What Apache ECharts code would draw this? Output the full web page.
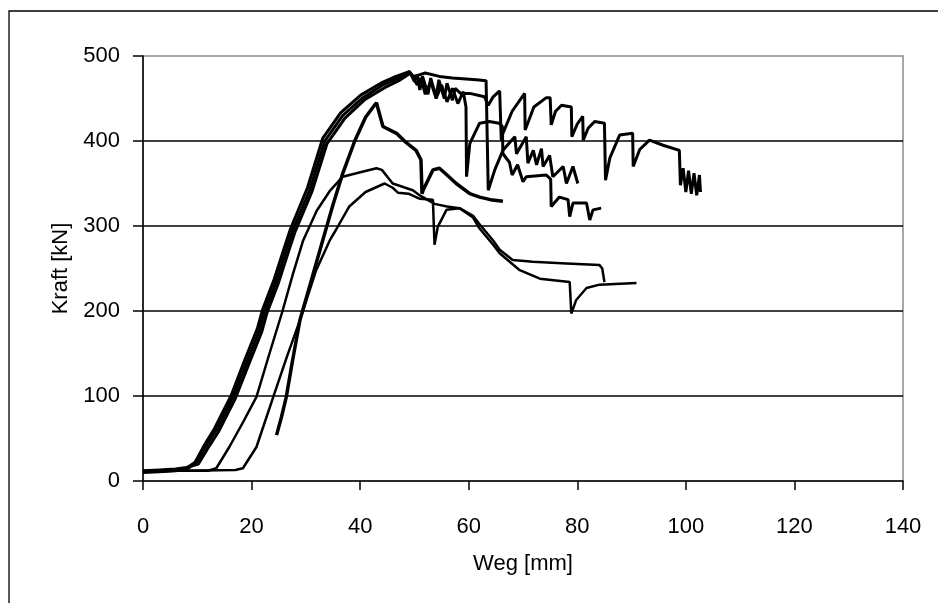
<!DOCTYPE html>
<html>
<head>
<meta charset="utf-8">
<script src="https://cdn.jsdelivr.net/npm/echarts@6/dist/echarts.min.js"></script>
<style>
  html, body { margin: 0; padding: 0; background: #fff; }
  #chart { width: 938px; height: 603px; }
</style>
</head>
<body>
<div id="chart"></div>
<script>
// Weg [mm] / Kraft [kN] Messkurven
var xTicks = [0, 20, 40, 60, 80, 100, 120, 140];
var yTicks = [0, 100, 200, 300, 400, 500];

// lange Kurve (bis ca. 103 mm)
var kurveLang = [
    [0,10],[3,11],[6,12],[8,14],[9.8,21],[11.5,40],[13.5,60],[16.6,99],[19,138],[21.5,178],[22.4,199],
    [24.6,236],[26.4,272],[27.6,295],[30.7,342],[33.5,400],[36.8,430],[40.5,451],[44.2,466],[47,474],[49.1,482],
    [50,470],[50.5,478],[51,460],[51.5,476],[52.5,455],[53,474],[54,452],[54.5,472],[55.5,450],[56,468],
    [57,448],[57.5,462],[58.5,456],[60.2,456],[62.9,452],[63.6,442],[64.5,452],[65.7,459],[66,401],[66.3,409],
    [68,435],[70.3,456],[70.4,413],[70.6,415],[72,440],[74.3,451],[75,451],[75.2,419],[76,435],[77.1,442],
    [78.9,440],[79,405],[80,420],[81,429],[81.1,401],[82,415],[83.2,423],[85,421],[85.2,354],[86,380],
    [87.8,407],[90.2,409],[90.3,370],[91.5,390],[93.3,401],[95.8,395],[98.8,389],[99,348],[99.5,368],
    [100,340],[100.5,365],[101,338],[101.5,362],[102,336],[102.5,360],[102.7,340]
];

// Kurve bis ca. 80 mm
var kurve80 = [
    [0,11],[3,12],[6,13],[8,15],[9.6,22],[11.2,41],[13.2,62],[16.2,100],[18.6,140],[21.1,180],[22,201],
    [24.2,238],[26,274],[27.2,297],[30.3,345],[33.1,403],[36.4,433],[40.1,454],[43.8,468],[46.6,476],[48.8,481],
    [50,476],[52,480],[54.6,476],[57,474],[61.4,472],[63.2,471],[63.6,342],[64.8,366],[66.3,389],[68.5,405],
    [68.8,385],[70.6,405],[70.9,374],[71.9,389],[72.5,372],[73.4,391],[73.7,370],[74.9,383],[75.5,358],
    [77.4,370],[78,350],[79.2,370],[80.1,350]
];

// Kurve bis ca. 84 mm
var kurve84 = [
    [0,12],[3,13],[6,14],[8,16],[10.2,20],[11.9,38],[13.9,58],[17,97],[19.4,136],[21.9,176],[22.8,197],
    [25,234],[26.8,270],[28,293],[31.1,340],[33.9,397],[37.2,427],[40.9,449],[44.6,463],[47.4,472],[49.3,480],
    [50.5,466],[51.2,474],[52,455],[53,470],[54,450],[55,466],[56,446],[57,462],[58,444],[59,458],[59.5,440],
    [59.6,358],[60.2,397],[62,421],[63.8,423],[65.6,421],[66.2,417],[66.3,385],[67.5,375],[68,360],[69,372],
    [70,352],[70.6,358],[74.3,360],[75.1,355],[75.2,323],[76.7,334],[78.3,331],[78.6,311],[79.2,327],
    [81.7,327],[82.3,307],[82.9,319],[84.4,321]
];

// steile Kurve ab 25 mm
var kurveSteil = [
    [24.6,54],[25.5,75],[26.4,99],[27.5,140],[28.9,189],[31,236],[33.1,283],[35,325],[36.8,362],[39,400],
    [41,428],[42.4,440],[43,445],[44.2,417],[46.7,409],[48.5,398],[50.3,389],[51.2,378],[51.4,338],[51.6,342],
    [53.4,366],[54.6,368],[56,360],[57.7,350],[60.2,338],[62,334],[64,331],[66.3,329]
];

// Kurve mit Maximum ca. 367 kN
var kurve367 = [
    [0,11],[6,12],[12,12],[13.5,15],[15.9,40],[18.5,70],[20.9,99],[23.3,150],[25.7,200],[27.6,243],[29.5,283],
    [32,318],[34.5,342],[36.8,358],[39.3,362],[43,368],[44,366],[46,350],[49.7,342],[51,336],[53.7,326],
    [56,323],[58.3,321],[60.8,312],[62,302],[64.5,283],[65.7,272],[68.1,260],[71.8,258],[78,256],[84.1,254],
    [84.6,250],[85,234]
];

// Kurve mit Maximum ca. 350 kN
var kurve350 = [
    [0,12],[8,12],[17,13],[18.4,15],[20.9,40],[24,99],[26.5,146],[28.9,189],[31.9,248],[34.4,283],[35.5,295],
    [38,323],[41,340],[44.5,350],[46,345],[47,339],[48.9,338],[51,332],[53.4,331],[53.7,278],[54.3,299],
    [55.9,319],[58.3,321],[60.8,310],[62,297],[64.5,278],[65.7,268],[69.4,248],[73.1,238],[78.6,234],
    [78.9,197],[79.8,213],[81.7,227],[84.1,231],[90.9,233]
];

var chart = echarts.init(document.getElementById('chart'));
var FONT = 'Liberation Sans, Arial, sans-serif';

function kurve(data, width) {
    return {
        type: 'line',
        data: data,
        showSymbol: false,
        smooth: false,
        silent: true,
        lineStyle: { color: '#000', width: width },
        z: 3
    };
}

var option = {
    animation: false,
    backgroundColor: '#fff',
    graphic: [{
        type: 'rect',
        shape: { x: 9, y: 11, width: 940, height: 600 },
        style: { fill: 'none', stroke: '#000', lineWidth: 1.3 },
        z: 0
    }],
    grid: {
        left: 143, right: 35, top: 56, bottom: 122,
        show: true, borderColor: '#8c8c8c', borderWidth: 1.5, backgroundColor: '#fff'
    },
    xAxis: {
        type: 'value', min: 0, max: 140, interval: 20,
        name: 'Weg [mm]', nameLocation: 'middle', nameGap: 72,
        nameTextStyle: { color: '#000', fontSize: 22, fontFamily: FONT },
        axisLine: { onZero: false, lineStyle: { color: '#000', width: 1.5 } },
        axisTick: { show: true, inside: false, length: 9, lineStyle: { color: '#000', width: 1.5 } },
        axisLabel: {
            color: '#000', fontSize: 22, fontFamily: FONT, margin: 35,
            customValues: xTicks
        },
        splitLine: { show: false }
    },
    yAxis: {
        type: 'value', min: 0, max: 500, interval: 100,
        name: 'Kraft [kN]', nameLocation: 'middle', nameGap: 70, nameRotate: 90,
        nameTextStyle: { color: '#000', fontSize: 22, fontFamily: FONT },
        axisLine: { show: true, lineStyle: { color: '#000', width: 1.5 } },
        axisTick: { show: true, inside: false, length: 10, lineStyle: { color: '#000', width: 1.5 } },
        axisLabel: {
            color: '#000', fontSize: 22, fontFamily: FONT, margin: 23,
            customValues: yTicks
        },
        splitLine: { show: true, showMinLine: false, showMaxLine: false, lineStyle: { color: '#000', width: 1.5 } }
    },
    series: [
        kurve(kurve350, 2.5),
        kurve(kurve367, 2.5),
        kurve(kurveSteil, 3.5),
        kurve(kurve84, 3),
        kurve(kurve80, 3),
        kurve(kurveLang, 3)
    ]
};

chart.setOption(option);
</script>
</body>
</html>
